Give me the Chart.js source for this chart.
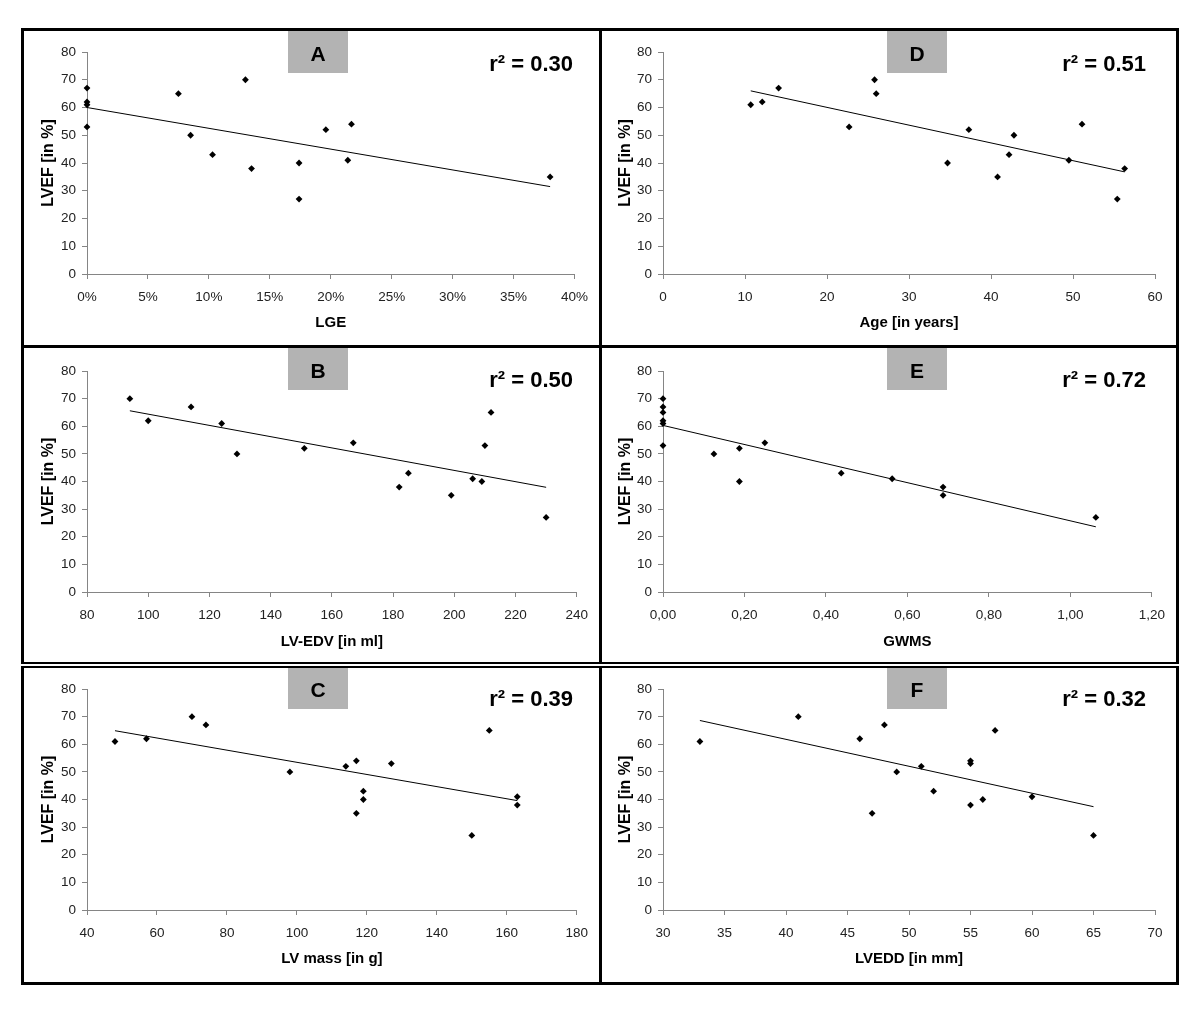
<!DOCTYPE html>
<html>
<head>
<meta charset="utf-8">
<script src="https://cdn.jsdelivr.net/npm/chart.js@4"></script>
<style>
body { margin: 0; background: #fff; }
#page { position: relative; width: 1200px; height: 1020px; background: #fff; overflow: hidden; }
.box { position: absolute; box-sizing: border-box; border: 3px solid #000; }
canvas { position: absolute; }
.tag { position: absolute; width: 60px; background: #b3b3b3; }
.letter { position: absolute; width: 60px; text-align: center; color: #000;
  font: bold 21px "Liberation Sans", Arial, sans-serif; line-height: 24px; }
.r2 { position: absolute; width: 160px; text-align: right; color: #000;
  font: bold 22px "Liberation Sans", Arial, sans-serif; line-height: 26px; }
</style>
</head>
<body>
<div id="page"></div>
<script>
// LVEF vs six parameters, one scatter + trend line per panel

const lvefTicks = [0, 10, 20, 30, 40, 50, 60, 70, 80];

// A - LGE
const lgeX = [0, 0, 0, 0, 0.075, 0.085, 0.103, 0.13, 0.135, 0.174, 0.174, 0.196, 0.214, 0.217, 0.38];
const lgeY = [67, 62, 61, 53, 65, 50, 43, 70, 38, 40, 27, 52, 41, 54, 35];
const lgeFitX = [0, 0.38];
const lgeFitY = [60.0, 31.5];
const lgeTicks = [0, 0.05, 0.10, 0.15, 0.20, 0.25, 0.30, 0.35, 0.40];

// D - age
const ageX = [10.7, 12.1, 14.1, 22.7, 25.8, 26.0, 34.7, 37.3, 40.8, 42.2, 42.8, 49.5, 51.1, 55.4, 56.3];
const ageY = [61, 62, 67, 53, 70, 65, 40, 52, 35, 43, 50, 41, 54, 27, 38];
const ageFitX = [10.7, 56.3];
const ageFitY = [66.0, 36.8];
const ageTicks = [0, 10, 20, 30, 40, 50, 60];

// B - LV-EDV
const edvX = [94, 100, 114, 124, 129, 151, 167, 182, 185, 199, 206, 209, 210, 212, 230];
const edvY = [70, 62, 67, 61, 50, 52, 54, 38, 43, 35, 41, 40, 53, 65, 27];
const edvFitX = [94, 230];
const edvFitY = [65.6, 37.9];
const edvTicks = [80, 100, 120, 140, 160, 180, 200, 220, 240];

// E - GWMS
const gwmsX = [0, 0, 0, 0, 0, 0, 0.125, 0.1875, 0.1875, 0.25, 0.4375, 0.5625, 0.6875, 0.6875, 1.0625];
const gwmsY = [70, 67, 65, 62, 61, 53, 50, 52, 40, 54, 43, 41, 38, 35, 27];
const gwmsFitX = [0, 1.0625];
const gwmsFitY = [60.3, 23.6];
const gwmsTicks = [0, 0.2, 0.4, 0.6, 0.8, 1.0, 1.2];

// C - LV mass
const massX = [48, 57, 70, 74, 98, 114, 117, 117, 119, 119, 127, 150, 155, 163, 163];
const massY = [61, 62, 70, 67, 50, 52, 54, 35, 43, 40, 53, 27, 65, 41, 38];
const massFitX = [48, 163];
const massFitY = [64.9, 39.6];
const massTicks = [40, 60, 80, 100, 120, 140, 160, 180];

// F - LVEDD
const lveddX = [33, 41, 46, 47, 48, 49, 51, 52, 55, 55, 55, 56, 57, 60, 65];
const lveddY = [61, 70, 62, 35, 67, 50, 52, 43, 54, 53, 38, 40, 65, 41, 27];
const lveddFitX = [33, 65];
const lveddFitY = [68.6, 37.4];
const lveddTicks = [30, 35, 40, 45, 50, 55, 60, 65, 70];

const pct = v => Math.round(v * 100) + '%';
const comma = v => v.toFixed(2).replace('.', ',');
const plain = v => String(v);

const panels = [
  { row: 0, col: 0, letter: 'A', r2: '0.30', xs: lgeX, ys: lgeY, fx: lgeFitX, fy: lgeFitY, ticks: lgeTicks, title: 'LGE', fmt: pct },
  { row: 0, col: 1, letter: 'D', r2: '0.51', xs: ageX, ys: ageY, fx: ageFitX, fy: ageFitY, ticks: ageTicks, title: 'Age [in years]', fmt: plain },
  { row: 1, col: 0, letter: 'B', r2: '0.50', xs: edvX, ys: edvY, fx: edvFitX, fy: edvFitY, ticks: edvTicks, title: 'LV-EDV [in ml]', fmt: plain },
  { row: 1, col: 1, letter: 'E', r2: '0.72', xs: gwmsX, ys: gwmsY, fx: gwmsFitX, fy: gwmsFitY, ticks: gwmsTicks, title: 'GWMS', fmt: comma },
  { row: 2, col: 0, letter: 'C', r2: '0.39', xs: massX, ys: massY, fx: massFitX, fy: massFitY, ticks: massTicks, title: 'LV mass [in g]', fmt: plain },
  { row: 2, col: 1, letter: 'F', r2: '0.32', xs: lveddX, ys: lveddY, fx: lveddFitX, fy: lveddFitY, ticks: lveddTicks, title: 'LVEDD [in mm]', fmt: plain },
];

// page geometry
const cols = [
  { box: 21, boxW: 581, cv: 24, cvW: 574, plotL: 63, tag: 288, r2Right: 573, ytPad: 15 },
  { box: 599, boxW: 580, cv: 602, cvW: 573, plotL: 61, tag: 887, r2Right: 1146, ytPad: 14 },
];
const rows = [
  { box: 28, boxH: 320, bt: 3, bb: 3, cv: 31, cvH: 314, plotT: 21, plotB: 243, xtPad: 13, tagT: 31, tagH: 42, letterC: 53.5, r2C: 64 },
  { box: 345, boxH: 319, bt: 3, bb: 2, cv: 348, cvH: 313, plotT: 23, plotB: 244, xtPad: 10, tagT: 348, tagH: 42, letterC: 371, r2C: 380 },
  { box: 666, boxH: 319, bt: 2, bb: 3, cv: 669, cvH: 312, plotT: 20, plotB: 241, xtPad: 13, tagT: 668, tagH: 41, letterC: 690, r2C: 699 },
];

const axisGray = '#858585';
const tickFont = { family: '"Liberation Sans", Arial, sans-serif', size: 13.5 };
const titleFamily = '"Liberation Sans", Arial, sans-serif';

const page = document.getElementById('page');

function add(cls, style, text) {
  const el = document.createElement('div');
  el.className = cls;
  Object.assign(el.style, style);
  if (text) el.textContent = text;
  page.appendChild(el);
  return el;
}

panels.forEach(p => {
  const c = cols[p.col], r = rows[p.row];

  add('box', {
    left: c.box + 'px', top: r.box + 'px', width: c.boxW + 'px', height: r.boxH + 'px',
    borderTopWidth: r.bt + 'px', borderBottomWidth: r.bb + 'px'
  });

  const cv = document.createElement('canvas');
  cv.width = c.cvW;
  cv.height = r.cvH;
  cv.style.left = c.cv + 'px';
  cv.style.top = r.cv + 'px';
  page.appendChild(cv);

  const pts = p.xs.map((x, i) => ({ x: x, y: p.ys[i] }));
  const fit = p.fx.map((x, i) => ({ x: x, y: p.fy[i] }));

  new Chart(cv, {
    type: 'scatter',
    data: {
      datasets: [
        { data: pts, pointStyle: 'rectRot', pointRadius: 3.4, pointHoverRadius: 3.4,
          backgroundColor: '#000', borderColor: '#000', borderWidth: 0, clip: false },
        { data: fit, showLine: true, pointRadius: 0, borderColor: '#000', borderWidth: 1, fill: false }
      ]
    },
    options: {
      responsive: false,
      animation: false,
      devicePixelRatio: 1,
      events: [],
      layout: { padding: { top: r.plotT, right: 20, bottom: 0, left: 0 } },
      plugins: { legend: { display: false }, tooltip: { enabled: false } },
      scales: {
        x: {
          type: 'linear',
          min: p.ticks[0],
          max: p.ticks[p.ticks.length - 1],
          afterBuildTicks: s => { s.ticks = p.ticks.map(v => ({ value: v })); },
          afterFit: s => { s.height = r.cvH - r.plotB; },
          grid: { drawOnChartArea: false, tickLength: 5, color: axisGray },
          border: { color: axisGray },
          ticks: { font: tickFont, color: '#222', padding: 10, maxRotation: 0, autoSkip: false, callback: v => p.fmt(v) },
          title: { display: true, text: p.title, color: '#000',
            font: { family: titleFamily, size: 15, weight: 'bold' }, padding: { top: 0, bottom: r.xtPad } }
        },
        y: {
          type: 'linear',
          min: 0,
          max: 80,
          afterBuildTicks: s => { s.ticks = lvefTicks.map(v => ({ value: v })); },
          afterFit: s => { s.width = c.plotL; },
          grid: { drawOnChartArea: false, tickLength: 5, color: axisGray },
          border: { color: axisGray },
          ticks: { font: tickFont, color: '#222', padding: 6, autoSkip: false },
          title: { display: true, text: 'LVEF [in %]', color: '#000',
            font: { family: titleFamily, size: 16, weight: 'bold' }, padding: { top: c.ytPad, bottom: 0 } }
        }
      }
    }
  });

  add('tag', { left: c.tag + 'px', top: r.tagT + 'px', height: r.tagH + 'px' });
  add('letter', { left: c.tag + 'px', top: (r.letterC - 11.8) + 'px' }, p.letter);
  add('r2', { left: (c.r2Right - 160) + 'px', top: (r.r2C - 12.7) + 'px' }, 'r² = ' + p.r2);
});
</script>
</body>
</html>
